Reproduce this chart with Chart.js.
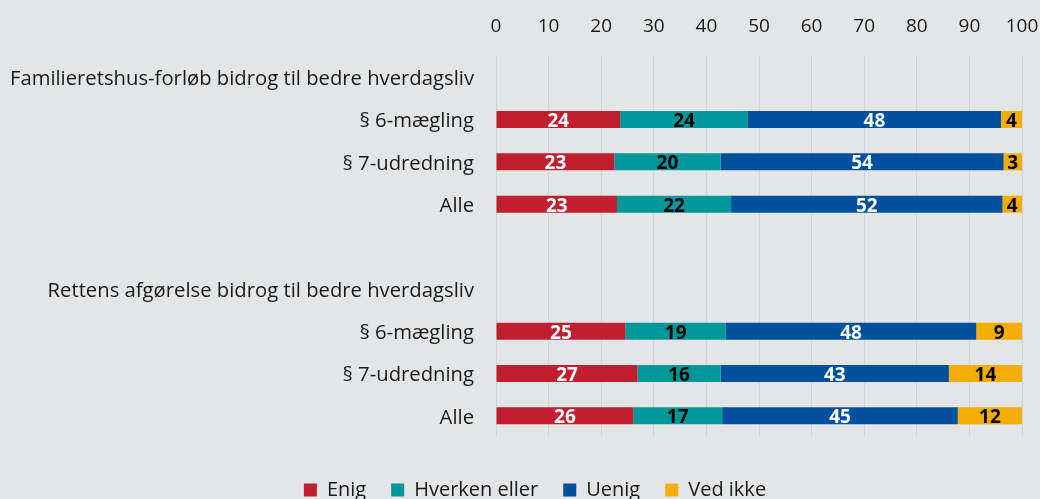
<!DOCTYPE html>
<html>
<head>
<meta charset="utf-8">
<script src="https://cdn.jsdelivr.net/npm/chart.js@4"></script>
<style>
  html, body { margin: 0; padding: 0; background: #e4e5e7; }
  #wrap { width: 1040px; height: 499px; position: relative; }
</style>
</head>
<body>
<div id="wrap"><canvas id="c" width="1040" height="499"></canvas></div>
<script>
const categories = [
  'Familieretshus-forløb bidrog til bedre hverdagsliv',
  '§ 6-mægling',
  '§ 7-udredning',
  'Alle',
  '',
  'Rettens afgørelse bidrog til bedre hverdagsliv',
  '§ 6-mægling',
  '§ 7-udredning',
  'Alle'
];
const seriesNames = ['Enig', 'Hverken eller', 'Uenig', 'Ved ikke'];
const enig     = [null, 23.6, 22.5, 23.0, null, null, 24.6, 26.9, 26.1];
const hverken  = [null, 24.3, 20.2, 21.7, null, null, 19.1, 15.8, 16.9];
const uenig    = [null, 48.1, 53.8, 51.6, null, null, 47.6, 43.4, 44.8];
const vedIkke  = [null, 4.0, 3.5, 3.7, null, null, 8.7, 13.9, 12.2];
const shownLabels = [
  [null, 24, 23, 23, null, null, 25, 27, 26],
  [null, 24, 20, 22, null, null, 19, 16, 17],
  [null, 48, 54, 52, null, null, 48, 43, 45],
  [null, 4, 3, 4, null, null, 9, 14, 12]
];
const xTicks = [0, 10, 20, 30, 40, 50, 60, 70, 80, 90, 100];

const colors = ['#c01f2f', '#00979b', '#00509e', '#f4ad00'];
const labelColors = ['#ffffff', '#000000', '#ffffff', '#000000'];
const FONT = "'Open Sans', 'Noto Sans', sans-serif";

const valueLabels = {
  id: 'valueLabels',
  afterDatasetsDraw(chart) {
    const ctx = chart.ctx;
    ctx.save();
    ctx.font = 'bold 19px ' + FONT;
    ctx.textAlign = 'center';
    ctx.textBaseline = 'middle';
    chart.data.datasets.forEach((ds, di) => {
      const meta = chart.getDatasetMeta(di);
      meta.data.forEach((bar, i) => {
        const lbl = shownLabels[di][i];
        if (lbl === null || ds.data[i] === null) return;
        const cx = (bar.x + bar.base) / 2;
        ctx.fillStyle = labelColors[di];
        ctx.fillText(String(lbl), cx, bar.y + 2);
      });
    });
    ctx.restore();
  }
};

const bg = {
  id: 'bg',
  beforeDraw(chart) {
    const ctx = chart.ctx;
    ctx.save();
    ctx.fillStyle = '#e4e5e7';
    ctx.fillRect(0, 0, chart.width, chart.height);
    ctx.restore();
  }
};

// place the legend row centred where the reference has it
const legendPlace = {
  id: 'legendPlace',
  afterLayout(chart) {
    const lg = chart.legend;
    if (!lg) return;
    const pad = lg.options.labels.padding;
    const itemH = Math.max(lg.options.labels.font.size, lg.options.labels.boxHeight);
    const top = 490 - pad - itemH / 2;
    const dy = top - lg.top;
    lg.top += dy; lg.bottom += dy;
    lg.left += 15; lg.right += 15;
  }
};

const datasets = [enig, hverken, uenig, vedIkke].map((d, i) => ({
  label: seriesNames[i],
  data: d,
  backgroundColor: colors[i],
  borderWidth: 0,
  barPercentage: 1.0,
  categoryPercentage: 0.4
}));

new Chart(document.getElementById('c'), {
  type: 'bar',
  data: { labels: categories, datasets },
  plugins: [bg, valueLabels, legendPlace],
  options: {
    indexAxis: 'y',
    responsive: false,
    animation: false,
    layout: { padding: { left: 0, right: 0, top: 0, bottom: 7 } },
    scales: {
      x: {
        position: 'top',
        stacked: true,
        min: 0, max: 100,
        afterBuildTicks(scale) { scale.ticks = xTicks.map(v => ({ value: v })); },
        afterFit(scale) { scale.height = 56; scale.paddingRight = 18; scale.paddingLeft = 0; },
        grid: { color: '#d3d4d6', lineWidth: 1, drawTicks: false },
        border: { display: false },
        ticks: { color: '#1a1a1a', font: { family: FONT, size: 19 }, padding: 18 }
      },
      y: {
        stacked: true,
        afterFit(scale) { scale.width = 496; },
        grid: { display: false, drawTicks: false },
        border: { display: false },
        ticks: { color: '#1a1a1a', font: { family: FONT, size: 20.25 }, padding: 22, labelOffset: 2, autoSkip: false }
      }
    },
    plugins: {
      legend: {
        position: 'bottom',
        labels: {
          color: '#1a1a1a',
          font: { family: FONT, size: 20 },
          boxWidth: 13, boxHeight: 13,
          padding: 25
        }
      },
      tooltip: { enabled: false }
    }
  }
});
</script>
</body>
</html>
